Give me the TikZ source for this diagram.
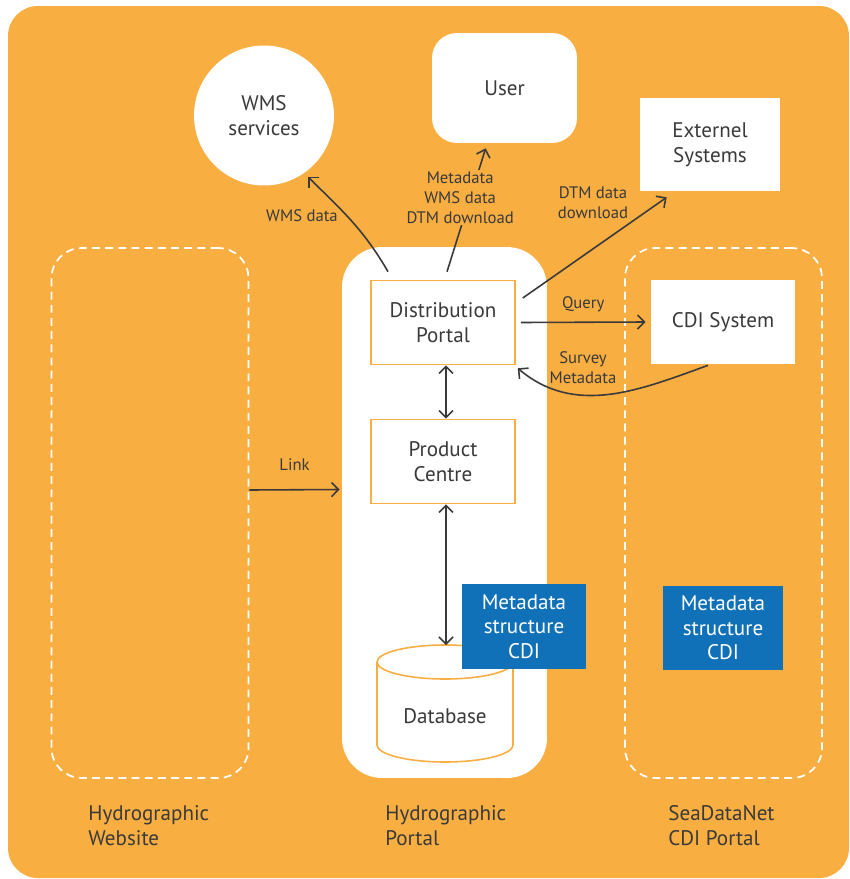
\documentclass[tikz,border=0pt]{standalone}
\usepackage{fontspec}
\setmainfont{PT Sans}
\usetikzlibrary{arrows.meta}
\definecolor{bgorange}{RGB}{249,174,66}
\definecolor{cdiblue}{RGB}{16,113,185}
\definecolor{inkgray}{RGB}{58,58,58}
\tikzset{
  boxfont/.style={font=\fontsize{12}{14}\selectfont},
  smallfont/.style={font=\fontsize{9.5}{11.3}\selectfont},
  whitebox/.style={boxfont, fill=white, text=inkgray, align=center},
  portalbox/.style={whitebox, draw=bgorange, line width=0.9pt, minimum width=2.88cm, minimum height=1.68cm},
  metabox/.style={boxfont, fill=cdiblue, text=white, align=center, minimum height=1.7cm},
  zone/.style={draw=white, line width=1pt, dash pattern=on 4.5pt off 3pt, rounded corners=0.6cm, minimum width=3.94cm, minimum height=10.6cm},
  flow/.style={draw=inkgray, line width=0.9pt, -{Straight Barb[length=4pt,width=8pt]}},
  flowboth/.style={flow, {Straight Barb[length=4pt,width=8pt]}-{Straight Barb[length=4pt,width=8pt]}},
  lbl/.style={smallfont, text=inkgray, align=center},
  caption/.style={boxfont, text=inkgray, align=left, anchor=west, inner sep=0pt, font=\fontsize{12}{14.2}\selectfont}
}
\begin{document}
\begin{tikzpicture}[x=0.02cm, y=0.02cm]
\useasboundingbox (0,0) rectangle (849,-879);
% Background
\fill[bgorange, rounded corners=0.6cm] (8,-6) rectangle (849,-878);
% Zones
\node[zone] (web) at (150,-513) {};
\node[fill=white, rounded corners=0.8cm, minimum width=4.1cm, minimum height=10.62cm] (portal) at (444.5,-512.5) {};
\node[zone] (sdn) at (723.5,-513) {};
% Outside systems
\node[whitebox, circle, minimum size=2.8cm] (wms) at (264,-115.5) {WMS\\services};
\node[whitebox, rounded corners=0.5cm, minimum width=2.9cm, minimum height=2.2cm] (user) at (504.5,-88) {User};
\node[whitebox, minimum width=2.8cm, minimum height=1.86cm] (ext) at (710,-144.5) {Externel\\Systems};
% Portal parts
\node[portalbox] (dp) at (443,-322.5) {Distribution\\Portal};
\node[portalbox] (pc) at (443,-461.5) {Product\\Centre};
\node[whitebox, minimum width=2.88cm, minimum height=1.68cm] (cdi) at (723,-322) {CDI System};
% Database
\filldraw[fill=white, draw=bgorange, line width=0.9pt] (377,-662) -- (377,-745) arc[start angle=180, end angle=360, x radius=68, y radius=17] -- (513,-662) arc[start angle=0, end angle=180, x radius=68, y radius=17] -- cycle;
\draw[bgorange, line width=0.9pt] (377,-662) arc[start angle=180, end angle=360, x radius=68, y radius=17];
\coordinate (dbtop) at (446,-645);
\node[boxfont, text=inkgray] (db) at (445,-716) {Database};
\node[metabox, minimum width=2.48cm] (meta) at (524,-626.5) {Metadata\\structure\\CDI};
\node[metabox, minimum width=2.4cm] (sdnmeta) at (723,-628) {Metadata\\structure\\CDI};
% Flows
\draw[flow, shorten >=3pt] ([xshift=-1.1cm,yshift=0.16cm]dp.north) to[out=120, in=-45] (wms.-55);
\node[lbl] (wmslbl) at (302,-216) {WMS data};
\draw[flow] ([xshift=0.08cm,yshift=0.16cm]dp.north) -- node[lbl, pos=0.6, xshift=-0.2cm, fill=bgorange, inner sep=1pt] {Metadata\\WMS data\\DTM download} ([xshift=1.08cm,yshift=-0.1cm]user.south west);
\draw[flow] ([xshift=0.14cm,yshift=0.49cm]dp.east) -- ([xshift=0.54cm,yshift=-0.12cm]ext.south west);
\node[lbl] (dtmlbl) at (593,-203) {DTM data\\download};
\draw[flow] ([xshift=0.1cm]dp.east) -- node[lbl, above=2pt] {Query} ([xshift=-0.1cm]cdi.west);
\draw[flow] ([xshift=-0.3cm,yshift=-0.02cm]cdi.south) to[out=200, in=-40] ([xshift=0.04cm,yshift=-0.06cm]dp.south east);
\node[lbl] (surveylbl) at (583,-368) {Survey\\Metadata};
\draw[flowboth] ([xshift=0.06cm]dp.south) -- ([xshift=0.06cm]pc.north);
\draw[flowboth] ([xshift=0.06cm]pc.south) -- (dbtop);
\draw[flow] ([yshift=0.46cm]web.east) -- node[lbl, above=7pt] {Link} ([xshift=-0.04cm,yshift=0.46cm]portal.west);
% Captions
\node[caption] (webcap) at (88,-826) {Hydrographic\\Website};
\node[caption] (portalcap) at (385,-826) {Hydrographic\\Portal};
\node[caption] (sdncap) at (668,-826) {SeaDataNet\\CDI Portal};
\end{tikzpicture}
\end{document}
